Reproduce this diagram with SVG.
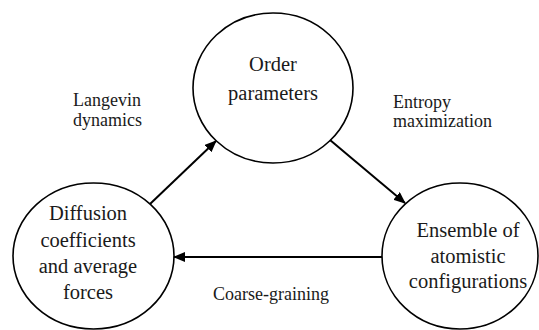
<svg xmlns="http://www.w3.org/2000/svg" width="539" height="330" viewBox="0 0 539 330">
<style>
.node{fill:#fff;stroke:#000;stroke-width:1.6}
.nt{font-size:20.5px;fill:#1a1a1a;text-anchor:middle}
.lb{font-size:18px;fill:#1a1a1a}
.edge{stroke:#000;stroke-width:2;fill:none}
</style>
<defs>
<marker id="ah" markerWidth="12" markerHeight="10" refX="11" refY="5" orient="auto" markerUnits="userSpaceOnUse">
<path d="M0,0 L12,5 L0,10 Z" fill="#000"/>
</marker>
</defs>
<rect width="539" height="330" fill="#fff"/>
<g font-family="Liberation Serif, DejaVu Serif, serif">
<g id="node-order">
<ellipse class="node" cx="273" cy="88" rx="80" ry="75"/>
<text class="nt" x="273" y="71" font-size="22">Order</text>
<text class="nt" x="273" y="100" font-size="22">parameters</text>
</g>
<g id="node-diffusion">
<ellipse class="node" cx="93.5" cy="256" rx="80.5" ry="73"/>
<text class="nt" x="88" y="220">Diffusion</text>
<text class="nt" x="88" y="247">coefficients</text>
<text class="nt" x="88" y="273">and average</text>
<text class="nt" x="88" y="299">forces</text>
</g>
<g id="node-ensemble">
<ellipse class="node" cx="460" cy="256" rx="78" ry="73"/>
<text class="nt" x="468" y="237">Ensemble of</text>
<text class="nt" x="468" y="263">atomistic</text>
<text class="nt" x="468" y="288">configurations</text>
</g>
<g id="connectors">
<line class="edge" x1="150" y1="204" x2="216" y2="141" marker-end="url(#ah)"/>
<line class="edge" x1="330" y1="140" x2="405" y2="203" marker-end="url(#ah)"/>
<line class="edge" x1="382" y1="257" x2="174" y2="257" marker-end="url(#ah)"/>
</g>
<g id="labels">
<text class="lb" x="73" y="106">Langevin</text>
<text class="lb" x="73" y="126">dynamics</text>
<text class="lb" x="393" y="108">Entropy</text>
<text class="lb" x="393" y="127">maximization</text>
<text class="lb" x="213" y="300">Coarse-graining</text>
</g>
</g>
</svg>
